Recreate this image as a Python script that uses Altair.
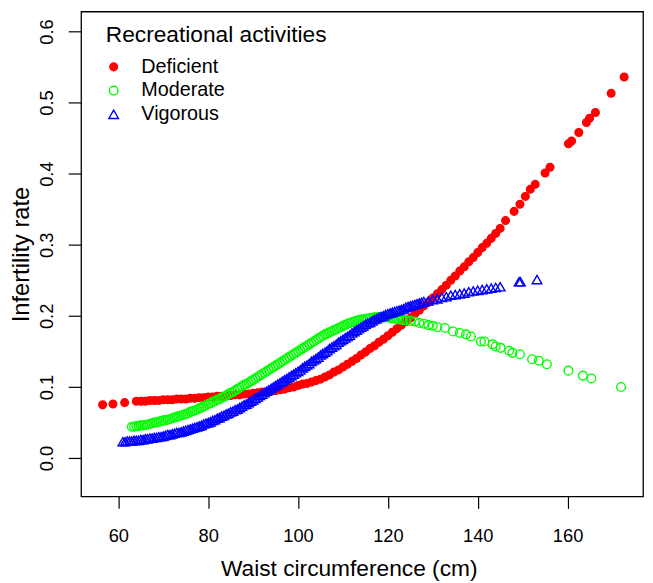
import altair as alt
import pandas as pd

# ---- data ----
# Deficient (red filled dots)
def_x = [56.5, 58.8, 61.4,
         64, 65, 66, 67, 68, 69, 70, 71, 72, 73, 74, 75, 76, 77, 78, 79, 80,
         81, 82, 83, 84, 85, 86, 87, 88, 89, 90, 91, 92, 93, 94, 95, 96, 97,
         98, 99, 100, 101, 102, 103, 104, 105, 106, 107, 108, 109, 110, 111,
         112, 113, 114, 115, 116, 117, 118, 119, 120, 121, 122, 123, 124, 125,
         126, 127, 128, 129, 130, 131, 132, 133, 134, 135, 136, 137, 138, 139,
         140, 141, 142, 143, 144, 145,
         146.2, 148.1, 149.4, 150.6, 151.7, 152.8, 155.0, 156.1, 160.2, 160.9,
         162.5, 164.2, 164.9, 166.2, 169.7, 172.6]
def_y = [0.075, 0.076, 0.078,
         0.080, 0.080, 0.080, 0.081, 0.081, 0.081, 0.082, 0.082, 0.082, 0.083,
         0.083, 0.083, 0.084, 0.084, 0.085, 0.085, 0.086, 0.086, 0.087, 0.087,
         0.088, 0.088, 0.089, 0.089, 0.090, 0.090, 0.091, 0.092, 0.093, 0.093,
         0.094, 0.095, 0.096, 0.097, 0.099, 0.100, 0.102, 0.104, 0.105, 0.107,
         0.109, 0.111, 0.114, 0.117, 0.121, 0.124, 0.128, 0.132, 0.136, 0.140,
         0.145, 0.149, 0.154, 0.158, 0.163, 0.167, 0.172, 0.177, 0.182, 0.187,
         0.192, 0.197, 0.203, 0.208, 0.214, 0.219, 0.225, 0.231, 0.237, 0.243,
         0.250, 0.256, 0.263, 0.269, 0.276, 0.282, 0.289, 0.296, 0.302, 0.309,
         0.316, 0.323,
         0.334, 0.347, 0.357, 0.368, 0.378, 0.385, 0.401, 0.409, 0.442, 0.446,
         0.458, 0.472, 0.478, 0.486, 0.513, 0.536]

# Moderate (green open circles): dense band read every 0.5 cm from 63 cm
mod_dense_start = 63.0
mod_dense_y = [
    0.044, 0.044, 0.045, 0.045, 0.046, 0.046, 0.047, 0.047, 0.048, 0.049,  # 63-67.5
    0.050, 0.050, 0.051, 0.052, 0.053, 0.053, 0.054, 0.055, 0.056, 0.057,  # 68-72.5
    0.058, 0.059, 0.060, 0.061, 0.062, 0.063, 0.065, 0.066, 0.067, 0.068,  # 73-77.5
    0.070, 0.071, 0.073, 0.074, 0.076, 0.077, 0.079, 0.080, 0.082, 0.083,  # 78-82.5
    0.085, 0.086, 0.088, 0.090, 0.092, 0.093, 0.095, 0.097, 0.099, 0.101,  # 83-87.5
    0.103, 0.104, 0.106, 0.108, 0.110, 0.112, 0.114, 0.116, 0.118, 0.120,  # 88-92.5
    0.122, 0.124, 0.126, 0.128, 0.130, 0.132, 0.134, 0.136, 0.138, 0.140,  # 93-97.5
    0.142, 0.144, 0.146, 0.148, 0.150, 0.152, 0.154, 0.156, 0.158, 0.160,  # 98-102.5
    0.162, 0.164, 0.166, 0.168, 0.170, 0.172, 0.174, 0.175, 0.177, 0.178,  # 103-107.5
    0.180, 0.181, 0.183, 0.184, 0.186, 0.187, 0.189, 0.190, 0.191, 0.192,  # 108-112.5
    0.193, 0.194, 0.195, 0.195, 0.196, 0.196, 0.197, 0.197, 0.198, 0.198,  # 113-117.5
    0.198, 0.198, 0.198, 0.198, 0.198, 0.197, 0.197, 0.196, 0.196, 0.195,  # 118-122.5
    0.195, 0.194, 0.194,                                                   # 123-124
]
mod_x_rest = [125, 126, 127, 128, 129, 130, 131,
              132.7, 134.5, 136.0, 137.4, 138.5, 140.7, 141.5, 143.3, 144.0, 145.1,
              147.0, 147.7, 149.4, 152.1, 153.6, 155.4, 160.2, 163.4, 165.3, 171.9]
mod_y_rest = [0.193, 0.192, 0.190, 0.189, 0.187, 0.186, 0.184,
              0.183, 0.178, 0.176, 0.174, 0.171, 0.164, 0.164, 0.160, 0.157, 0.155,
              0.151, 0.148, 0.146, 0.139, 0.137, 0.132, 0.123, 0.116, 0.112, 0.100]

# Vigorous (blue open triangles): dense band read every 0.5 cm from 61 cm
vig_dense_start = 61.0
vig_dense_y = [
    0.023, 0.023, 0.024, 0.024, 0.024, 0.025, 0.025, 0.025, 0.026, 0.026,  # 61-65.5
    0.027, 0.027, 0.028, 0.028, 0.029, 0.029, 0.030, 0.030, 0.031, 0.032,  # 66-70.5
    0.033, 0.033, 0.034, 0.035, 0.036, 0.036, 0.037, 0.038, 0.039, 0.040,  # 71-75.5
    0.041, 0.042, 0.043, 0.044, 0.045, 0.046, 0.048, 0.049, 0.050, 0.051,  # 76-80.5
    0.053, 0.054, 0.056, 0.057, 0.059, 0.060, 0.062, 0.063, 0.065, 0.066,  # 81-85.5
    0.068, 0.069, 0.071, 0.073, 0.075, 0.076, 0.078, 0.080, 0.082, 0.084,  # 86-90.5
    0.086, 0.088, 0.090, 0.092, 0.094, 0.096, 0.098, 0.100, 0.102, 0.104,  # 91-95.5
    0.106, 0.108, 0.110, 0.112, 0.114, 0.116, 0.118, 0.120, 0.122, 0.124,  # 96-100.5
    0.127, 0.129, 0.131, 0.133, 0.136, 0.138, 0.140, 0.142, 0.145, 0.147,  # 101-105.5
    0.149, 0.151, 0.154, 0.156, 0.158, 0.160, 0.163, 0.165, 0.167, 0.169,  # 106-110.5
    0.171, 0.173, 0.176, 0.178, 0.180, 0.182, 0.184, 0.186, 0.188, 0.190,  # 111-115.5
    0.191, 0.193, 0.195, 0.196, 0.198, 0.199, 0.200, 0.202, 0.203, 0.204,  # 116-120.5
    0.205, 0.206, 0.207, 0.208, 0.209, 0.210, 0.212, 0.213, 0.214, 0.215,  # 121-125.5
    0.216, 0.217, 0.218, 0.219, 0.220,                                     # 126-128
]
vig_x_rest = [129, 130, 131, 132, 133, 134, 135, 136, 137, 138, 139, 140, 141,
              142, 143, 144, 145, 149.2, 149.5, 153.2]
vig_y_rest = [0.221, 0.223, 0.224, 0.226, 0.227, 0.229, 0.230, 0.231, 0.232,
              0.234, 0.235, 0.236, 0.237, 0.238, 0.239, 0.240, 0.241,
              0.248, 0.248, 0.251]

groups = ["Deficient", "Moderate", "Vigorous"]
x_ticks = [60, 80, 100, 120, 140, 160]
y_ticks = [0.0, 0.1, 0.2, 0.3, 0.4, 0.5, 0.6]

mod_x = [mod_dense_start + 0.5 * i for i in range(len(mod_dense_y))] + mod_x_rest
mod_y = mod_dense_y + mod_y_rest
vig_x = [vig_dense_start + 0.5 * i for i in range(len(vig_dense_y))] + vig_x_rest
vig_y = vig_dense_y + vig_y_rest

df = pd.concat([
    pd.DataFrame({"waist": def_x, "rate": def_y, "group": groups[0]}),
    pd.DataFrame({"waist": mod_x, "rate": mod_y, "group": groups[1]}),
    pd.DataFrame({"waist": vig_x, "rate": vig_y, "group": groups[2]}),
], ignore_index=True)
df["order"] = range(len(df))

FONT = "Liberation Sans"
LEG_TITLE = "Recreational activities"
legend = alt.Legend(
    title=LEG_TITLE, orient="none", legendX=25, legendY=13, padding=0,
    titleFontSize=23, titleFont=FONT, titleFontWeight="normal", titleColor="black",
    titleLimit=500, titlePadding=10, labelFontSize=20, labelFont=FONT,
    labelColor="black", labelLimit=300, labelOffset=18, symbolOffset=-2,
    rowPadding=4, symbolStrokeWidth=1.4,
)

chart = alt.Chart(df).mark_point(filled=False, strokeWidth=1.4, opacity=1).encode(
    x=alt.X("waist:Q", scale=alt.Scale(domain=[51.7, 176.8], nice=False, zero=False),
            axis=alt.Axis(values=x_ticks, title="Waist circumference (cm)", grid=False,
                          domain=False, tickSize=12, tickColor="black", tickWidth=1.2,
                          labelFontSize=18.5, labelFont=FONT, labelColor="black",
                          labelPadding=19, titleFontSize=23, titleFont=FONT,
                          titleFontWeight="normal", titleColor="black",
                          titleBaseline="middle", titleX=271, titleY=73)),
    y=alt.Y("rate:Q", scale=alt.Scale(domain=[-0.054, 0.628], nice=False, zero=False),
            axis=alt.Axis(values=y_ticks, format=".1f", title="Infertility rate", grid=False,
                          domain=False, tickSize=13, tickColor="black", tickWidth=1.2,
                          labelFontSize=18.5, labelFont=FONT, labelColor="black",
                          labelAngle=-90, labelAlign="center", labelBaseline="bottom",
                          labelPadding=12, titleFontSize=24, titleFont=FONT,
                          titleFontWeight="normal", titleColor="black",
                          titleBaseline="middle", titleX=-60, titleAngle=-90)),
    color=alt.Color("group:N", scale=alt.Scale(domain=groups, range=["#ff0000", "#00ff00", "#0000ff"]),
                    legend=legend),
    fill=alt.Fill("group:N", scale=alt.Scale(domain=groups, range=["#ff0000", "transparent", "transparent"]),
                  legend=legend),
    shape=alt.Shape("group:N", scale=alt.Scale(domain=groups, range=["circle", "circle", "triangle-up"]),
                    legend=legend),
    size=alt.Size("group:N", scale=alt.Scale(domain=groups, range=[60, 95, 150]), legend=legend),
    order=alt.Order("order:Q"),
).properties(
    width=569, height=491,
    autosize=alt.AutoSizeParams(type="none"),
    padding={"left": 74, "top": 0, "right": 2, "bottom": 84},
).configure_view(stroke="black", strokeWidth=1.3)

chart.save("out.html", embed_options={"renderer": "svg", "actions": False})
